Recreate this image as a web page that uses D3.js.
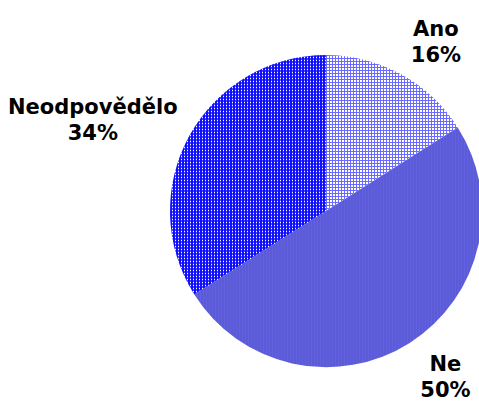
<!DOCTYPE html>
<html>
<head>
<meta charset="utf-8">
<script src="https://cdn.jsdelivr.net/npm/d3@7"></script>
<style>
  body { margin: 0; background: #fff; }
  svg { display: block; }
</style>
</head>
<body>
<script>
// answers to the question, in drawing order (clockwise from 12 o'clock)
const categories = ["Ano", "Ne", "Neodpovědělo"];
const values = [16, 50, 34];
const patternIds = ["patAno", "patNe", "patNeodp"];

const W = 479, H = 404;
const cx = 326, cy = 211, r = 156;

const svg = d3.select("body").append("svg")
  .attr("width", W)
  .attr("height", H);

// fill patterns that imitate the dithered Excel fills
const defs = svg.append("defs");

let p = defs.append("pattern").attr("id", "patAno")
  .attr("patternUnits", "userSpaceOnUse").attr("width", 3).attr("height", 3);
p.append("rect").attr("width", 3).attr("height", 3).attr("fill", "#ffffff");
p.append("rect").attr("width", 1).attr("height", 3).attr("fill", "#6a6aff");
p.append("rect").attr("width", 3).attr("height", 1).attr("fill", "#6a6aff");

p = defs.append("pattern").attr("id", "patNe")
  .attr("patternUnits", "userSpaceOnUse").attr("width", 3).attr("height", 3);
p.append("rect").attr("width", 3).attr("height", 3).attr("fill", "#5b5bd8");
p.append("rect").attr("width", 1).attr("height", 3).attr("fill", "#6262e0");

p = defs.append("pattern").attr("id", "patNeodp")
  .attr("patternUnits", "userSpaceOnUse").attr("width", 3).attr("height", 3);
p.append("rect").attr("width", 3).attr("height", 3).attr("fill", "#1010ff");
p.append("rect").attr("x", 2).attr("width", 1).attr("height", 3).attr("fill", "#4848ff");
p.append("rect").attr("x", 2).attr("y", 2).attr("width", 1).attr("height", 1).attr("fill", "#ffffff");

const pie = d3.pie().sort(null).value(d => d)(values);
const arc = d3.arc().innerRadius(0).outerRadius(r);

const g = svg.append("g").attr("transform", "translate(" + cx + "," + cy + ")");

g.selectAll("path.slice")
  .data(pie)
  .enter().append("path")
  .attr("class", "slice")
  .attr("d", arc)
  .attr("fill", (d, i) => "url(#" + patternIds[i] + ")");

// labels: name on first line, percent on second, set just outside the pie
// and kept inside the chart area (like Excel does)
const total = d3.sum(values);
const lineH = 26;
const margin = 8;
const labels = g.selectAll("g.label")
  .data(pie)
  .enter().append("g")
  .attr("class", "label");

labels.each(function(d, i) {
  const lg = d3.select(this);
  const t1 = lg.append("text").text(categories[i]);
  const t2 = lg.append("text").text(Math.round(d.value / total * 100) + "%");
  lg.selectAll("text")
    .attr("text-anchor", "middle")
    .attr("font-family", "DejaVu Sans, Verdana, sans-serif")
    .attr("font-weight", "bold")
    .attr("font-size", "21px")
    .attr("fill", "#000");
  const w = Math.max(t1.node().getComputedTextLength(), t2.node().getComputedTextLength());
  const h = lineH * 2;
  const a = (d.startAngle + d.endAngle) / 2;
  const s = Math.sin(a), c = Math.cos(a);
  let x = s * (r + 20) + Math.sign(s) * w / 2;
  let y = -c * (r + 16 + h / 2);
  // keep the box on the page
  x = Math.max(x, -cx + margin + w / 2);
  x = Math.min(x, W - cx - margin - w / 2);
  let b1 = y - 2, b2 = y + lineH - 2;
  if (cy + b2 > H - 7) { const dy = cy + b2 - (H - 7); b1 -= dy; b2 -= dy; }
  t1.attr("x", x).attr("y", b1);
  t2.attr("x", x).attr("y", b2);
});
</script>
</body>
</html>
